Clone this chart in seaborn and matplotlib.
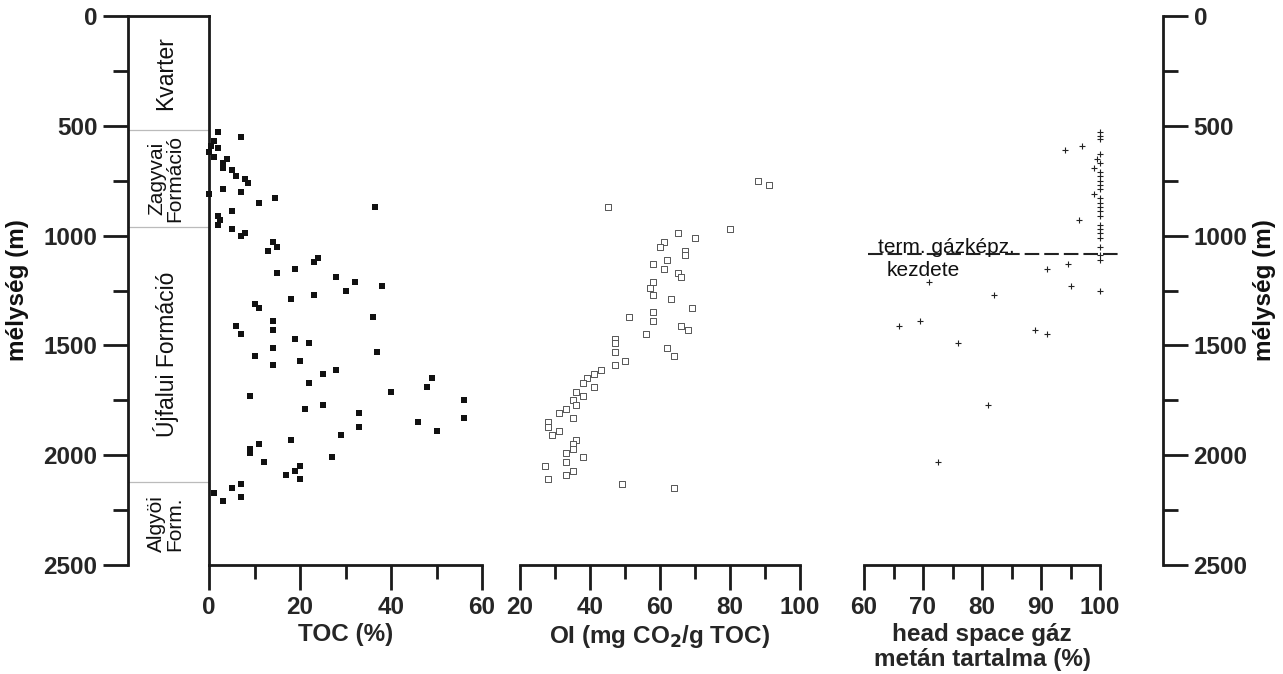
import matplotlib
matplotlib.use("Agg")
import matplotlib.pyplot as plt
from matplotlib.ticker import MultipleLocator
import seaborn as sns
import pandas as pd

sns.set_theme(style="white")
plt.rcParams['font.family'] = ['Liberation Sans', 'DejaVu Sans']

# --- data ---
toc_depth = [530, 550, 570, 590, 600, 620, 640, 650, 670, 690, 700, 730, 740, 760, 790,
             800, 810, 830, 850, 870, 890, 910, 930, 950, 970, 990, 1000, 1030, 1050, 1070,
             1100, 1120, 1150, 1170, 1190, 1210, 1230, 1250, 1270, 1290, 1310, 1330, 1370,
             1390, 1410, 1430, 1450, 1470, 1490, 1510, 1530, 1550, 1570, 1590, 1610, 1630,
             1650, 1670, 1690, 1710, 1730, 1750, 1770, 1790, 1810, 1830, 1850, 1870, 1890,
             1910, 1930, 1950, 1970, 1990, 2010, 2030, 2050, 2070, 2090, 2110, 2130, 2150,
             2170, 2190, 2210]
toc_val = [2, 7, 1, 0.5, 2, 0, 1, 4, 3, 3, 5, 6, 8, 8.5, 3,
           7, 0, 14.5, 11, 36.5, 5, 2, 2.5, 2, 5, 8, 7, 14, 15, 13,
           24, 23, 19, 15, 28, 32, 38, 30, 23, 18, 10, 11, 36,
           14, 6, 14, 7, 19, 22, 14, 37, 10, 20, 14, 28, 25,
           49, 22, 48, 40, 9, 56, 25, 21, 33, 56, 46, 33, 50,
           29, 18, 11, 9, 9, 27, 12, 20, 19, 17, 20, 7, 5,
           1, 7, 3]

oi_depth = [750, 770, 870, 970, 990, 1010, 1030, 1050, 1070, 1090, 1110, 1130, 1150, 1170,
            1190, 1210, 1240, 1270, 1290, 1330, 1350, 1370, 1390, 1410, 1430, 1450, 1470,
            1490, 1510, 1530, 1550, 1570, 1590, 1610, 1630, 1650, 1670, 1690, 1710, 1730,
            1750, 1770, 1790, 1810, 1830, 1850, 1870, 1890, 1910, 1930, 1950, 1970, 1990,
            2010, 2030, 2050, 2070, 2090, 2110, 2130, 2150]
oi_val = [88, 91, 45, 80, 65, 70, 61, 60, 67, 67, 62, 58, 61, 65,
          66, 58, 57, 58, 63, 69, 58, 51, 58, 66, 68, 56, 47,
          47, 62, 47, 64, 50, 47, 43, 41, 39, 38, 41, 36, 38,
          35, 36, 33, 31, 35, 28, 28, 31, 29, 36, 35, 35, 33,
          38, 33, 27, 35, 33, 28, 49, 64]

hs_depth = [530, 545, 560, 590, 610, 630, 650, 670, 690, 710, 730, 750, 770, 790, 810,
            830, 850, 870, 890, 910, 930, 950, 970, 990, 1010, 1050, 1090, 1110, 1130,
            1150, 1210, 1230, 1250, 1270, 1390, 1410, 1430, 1450, 1490, 1770, 2030]
hs_val = [100, 100, 100, 97, 94, 100, 99.5, 100, 99, 100, 100, 100, 100, 100, 99,
          100, 100, 100, 100, 100, 96.5, 100, 100, 100, 100, 100, 100, 100, 94.5,
          91, 71, 95, 100, 82, 69.5, 66, 89, 91, 76, 81, 72.5]

formation_bounds = [520, 960, 2120]
formation_names = ["Kvarter", "Zagyvai\nFormáció", "Újfalui Formáció", "Algyöi\nForm."]
formation_mid = [260, 740, 1540, 2310]
formation_size = [16.5, 15, 16.5, 15]
gas_onset_depth = 1085

toc = pd.DataFrame({"depth": toc_depth, "val": toc_val})
oi = pd.DataFrame({"depth": oi_depth, "val": oi_val})
hs = pd.DataFrame({"depth": hs_depth, "val": hs_val})

W, H = 1283, 674
fig = plt.figure(figsize=(W / 100, H / 100), dpi=100)
fig.patch.set_facecolor("white")

y0, y1 = 16, 565
bottom = 1 - y1 / H
height = (y1 - y0) / H


def px_axes(xa, xb):
    return fig.add_axes([xa / W, bottom, (xb - xa) / W, height])


TICK = 17.5
LW = 2.0


def style_common(ax):
    ax.set_facecolor("none")
    ax.set_ylim(2500, 0)
    for s in ax.spines.values():
        s.set_linewidth(LW)
        s.set_color("#1a1a1a")
        s.set_visible(False)
    ax.grid(False)


# stratigraphic column + left depth axis
ax_col = px_axes(128, 209)
style_common(ax_col)
ax_col.set_xlim(0, 1)
for s in ["left", "top", "right"]:
    ax_col.spines[s].set_visible(True)
ax_col.set_xticks([])
ax_col.yaxis.set_major_locator(MultipleLocator(500))
ax_col.yaxis.set_minor_locator(MultipleLocator(250))
ax_col.tick_params(axis="y", which="major", direction="out", length=18, width=LW,
                   labelsize=TICK, pad=4, left=True, color="#1a1a1a")
ax_col.tick_params(axis="y", which="minor", direction="out", length=11, width=LW,
                   left=True, color="#1a1a1a")
for lab in ax_col.get_yticklabels():
    lab.set_fontweight("bold")
for b in formation_bounds:
    ax_col.axhline(b, color="#bbbbbb", lw=0.9)
for name, mid, fs in zip(formation_names, formation_mid, formation_size):
    ax_col.text(0.47, mid, name, rotation=90, ha="center", va="center",
                fontsize=fs, linespacing=0.95, color="#111111")


def data_axis(ax, xlim, major, minor):
    style_common(ax)
    ax.spines["bottom"].set_visible(True)
    ax.set_xlim(*xlim)
    ax.set_yticks([])
    ax.xaxis.set_major_locator(MultipleLocator(major))
    ax.xaxis.set_minor_locator(MultipleLocator(minor))
    ax.tick_params(axis="x", which="major", direction="out", length=18, width=LW,
                   labelsize=TICK, pad=4, bottom=True, color="#1a1a1a")
    ax.tick_params(axis="x", which="minor", direction="out", length=10, width=LW,
                   bottom=True, color="#1a1a1a")
    for lab in ax.get_xticklabels():
        lab.set_fontweight("bold")
    ax.set_ylabel("")


# TOC
ax_toc = px_axes(209, 482)
sns.scatterplot(data=toc, x="val", y="depth", ax=ax_toc, marker="s", s=14,
                color="#111111", edgecolor="#111111", linewidth=0, clip_on=False)
data_axis(ax_toc, (0, 60), 20, 10)
ax_toc.set_xlabel("TOC (%)", fontsize=TICK, fontweight="bold", labelpad=3)

# OI
ax_oi = px_axes(520, 800)
sns.scatterplot(data=oi, x="val", y="depth", ax=ax_oi, marker="s", s=14,
                facecolor="white", edgecolor="#555555", linewidth=0.7, clip_on=False)
data_axis(ax_oi, (20, 100), 20, 10)
ax_oi.set_xlabel("OI (mg CO$_\\mathbf{2}$/g TOC)", fontsize=TICK, fontweight="bold", labelpad=3)

# head space methane
ax_hs = px_axes(864, 1100)
sns.scatterplot(data=hs, x="val", y="depth", ax=ax_hs, marker="+", s=20,
                color="#222222", linewidth=0.8, clip_on=False)
data_axis(ax_hs, (60, 100), 10, 5)
ax_hs.set_xlabel("head space gáz\nmetán tartalma (%)", fontsize=TICK, fontweight="bold",
                 labelpad=3, linespacing=1.15)
ax_hs.plot([60.7, 103.5], [gas_onset_depth, gas_onset_depth], color="#222222", lw=1.5,
           dashes=(7, 2.4), clip_on=False)
ax_hs.text(73.9, 1052, "term. gázképz.", ha="center", va="center", fontsize=15, color="#111111")
ax_hs.text(70.0, 1157, "kezdete", ha="center", va="center", fontsize=15, color="#111111")

# right depth axis
ax_r = px_axes(1162, 1163)
style_common(ax_r)
ax_r.spines["right"].set_visible(True)
ax_r.set_xticks([])
ax_r.yaxis.tick_right()
ax_r.yaxis.set_major_locator(MultipleLocator(500))
ax_r.yaxis.set_minor_locator(MultipleLocator(250))
ax_r.tick_params(axis="y", which="major", direction="out", length=18, width=LW,
                 labelsize=TICK, pad=4, right=True, left=False, color="#1a1a1a")
ax_r.tick_params(axis="y", which="minor", direction="out", length=11, width=LW,
                 right=True, left=False, color="#1a1a1a")
for lab in ax_r.get_yticklabels():
    lab.set_fontweight("bold")

fig.text(18 / W, 1 - 290 / H, "mélység (m)", rotation=90, ha="center", va="center",
         fontsize=TICK, fontweight="bold", color="#111111")
fig.text(1265 / W, 1 - 290 / H, "mélység (m)", rotation=90, ha="center", va="center",
         fontsize=TICK, fontweight="bold", color="#111111")

fig.savefig("out.png", dpi=100, facecolor="white")
